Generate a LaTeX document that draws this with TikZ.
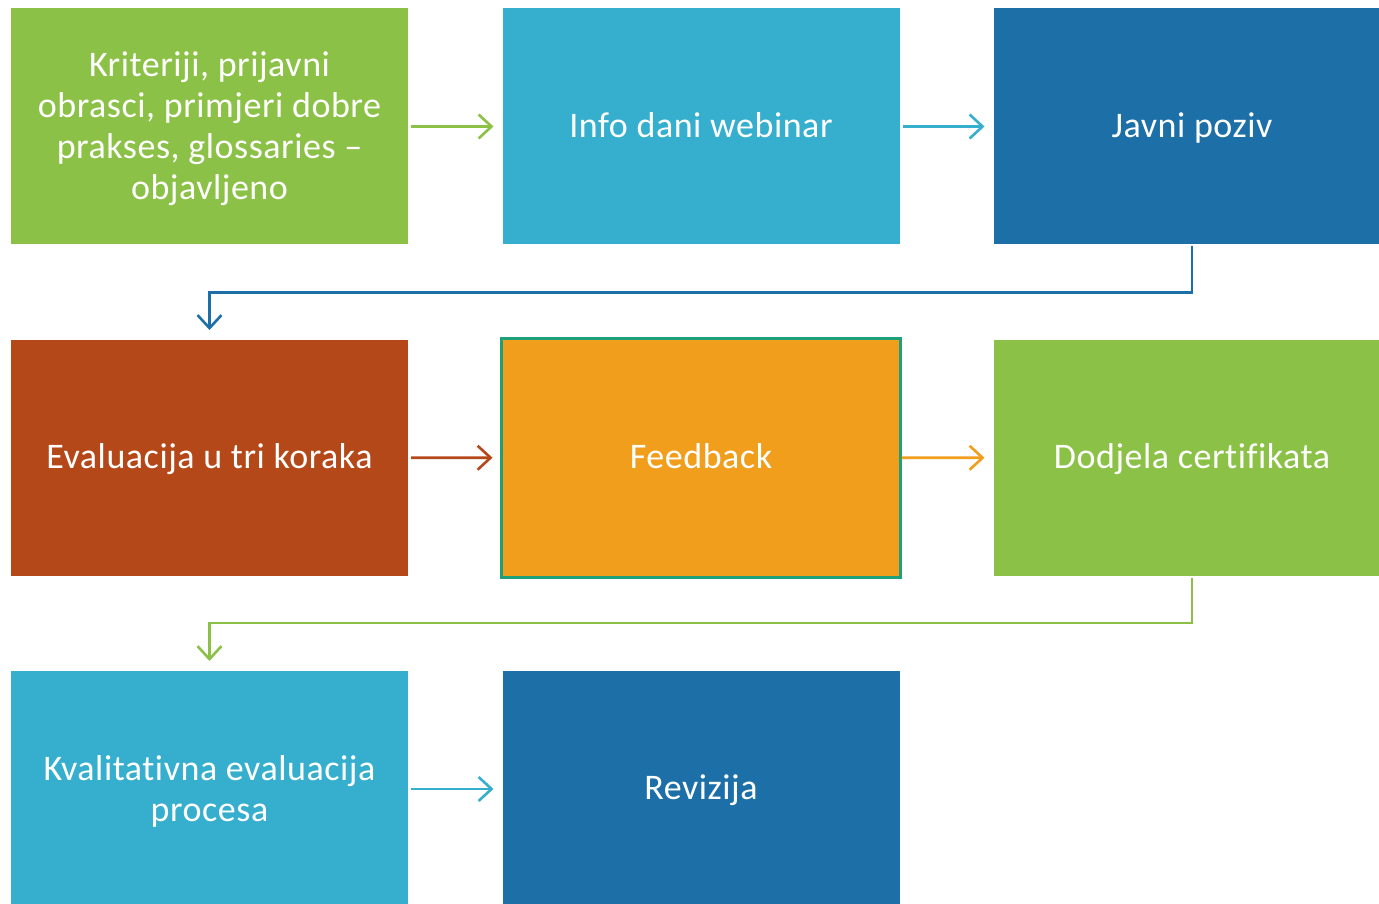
\documentclass[tikz,border=0pt]{standalone}
\usepackage{fontspec}
\setmainfont{Carlito}[Ligatures={NoCommon},LetterSpace=1.5]
\usetikzlibrary{arrows.meta}
\definecolor{cgreen}{RGB}{140,193,71}
\definecolor{clblue}{RGB}{54,175,206}
\definecolor{cdblue}{RGB}{29,111,168}
\definecolor{crust}{RGB}{181,72,25}
\definecolor{corange}{RGB}{240,158,27}
\definecolor{cteal}{RGB}{31,158,122}
\tikzset{
  box/.style={minimum width=397pt, minimum height=236pt, inner sep=0pt, outer sep=0pt, draw=none},
  txt/.style={text=white, font=\fontsize{36}{41}\selectfont, align=center, inner sep=0pt, yshift=-2.5pt},
  conn/.style={line width=2.6pt, -{Straight Barb[length=13pt,width=24pt,line width=2.6pt]},
    shorten <=3pt, shorten >=9pt}
}
\begin{document}
\begin{tikzpicture}[x=1pt,y=1pt]
\useasboundingbox (0,0) rectangle (1379,-904);
\clip (0,0) rectangle (1379,-904);
\fill[white] (0,0) rectangle (1379,-904);
% row 1
\node[box, fill=cgreen, label={[txt]center:{Kriteriji, prijavni\\obrasci, primjeri dobre\\prakses, glossaries --\\objavljeno}}] (a) at (209.5,-126.5) {};
\node[box, fill=clblue, label={[txt]center:{\strut Info dani webinar}}] (b) at (701,-126.5) {};
\node[box, fill=cdblue, label={[txt]center:{\strut Javni poziv}}] (c) at (1192,-126.5) {};
% row 2
\node[box, fill=crust, label={[txt]center:{\strut Evaluacija u tri koraka}}] (d) at (209.5,-458) {};
\node[box, fill=corange, draw=cteal, line width=3pt, minimum width=399pt, minimum height=239pt, label={[txt]center:{\strut Feedback}}] (e) at (701,-457.5) {};
\node[box, fill=cgreen, label={[txt]center:{\strut Dodjela certifikata}}] (f) at (1192,-458) {};
% row 3
\node[box, fill=clblue, label={[txt]center:{Kvalitativna evaluacija\\procesa}}] (g) at (209.5,-789) {};
\node[box, fill=cdblue, label={[txt]center:{\strut Revizija}}] (h) at (701,-789) {};
% connectors
\draw[conn, cgreen] (a) -- (b);
\draw[conn, clblue] (b) -- (c);
\draw[conn, crust] (d) -- (e);
\draw[conn, corange, shorten <=1pt] (e) -- (f);
\draw[conn, clblue] (g) -- (h);
\draw[conn, cdblue, shorten <=2pt, shorten >=10pt] (c.south) -- ++(0,-48) -| (d.north);
\draw[conn, cgreen, shorten <=2pt, shorten >=10pt] (f.south) -- ++(0,-47) -| (g.north);
\end{tikzpicture}
\end{document}
